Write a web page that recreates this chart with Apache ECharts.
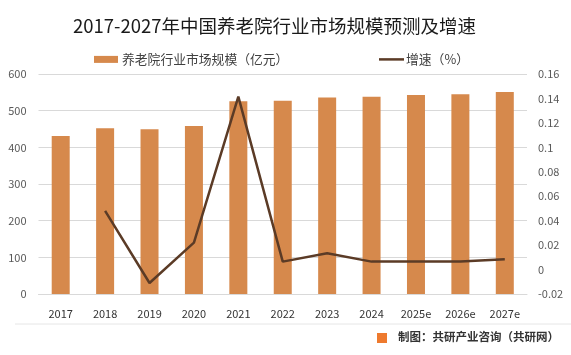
<!DOCTYPE html>
<html><head><meta charset="utf-8">
<script src="https://cdn.jsdelivr.net/npm/echarts@6/dist/echarts.min.js"></script>
<style>html,body{margin:0;padding:0;background:#fff}#c{width:571px;height:355px}</style>
</head><body><div id="c"></div>
<script>
const categories = ['2017','2018','2019','2020','2021','2022','2023','2024','2025e','2026e','2027e'];
const marketSize = [431, 452, 449, 458, 526, 527, 536, 538, 543, 545, 551];
const growthRate = [null, 0.048, -0.011, 0.022, 0.1415, 0.0065, 0.0133, 0.0065, 0.0065, 0.0065, 0.0084];
const leftTicks = {min: 0, max: 600, interval: 100};
const rightTicks = {min: -0.02, max: 0.16, interval: 0.02};

const font = '"Noto Sans CJK SC", "Noto Sans", sans-serif';
const chart = echarts.init(document.getElementById('c'));
chart.setOption({
  backgroundColor: '#fff',
  animation: false,
  title: {
    text: '2017-2027年中国养老院行业市场规模预测及增速',
    left: 68, top: 12,
    textStyle: {fontFamily: font, fontSize: 18.5, fontWeight: 'normal', color: '#1a1a1a'}
  },
  legend: [
    {
      top: 48, left: 89, itemWidth: 24, itemHeight: 7, itemGap: 4,
      textStyle: {fontFamily: font, fontSize: 12.8, color: '#404040', padding: [0, 0, 0, -1]},
      data: [{name: '养老院行业市场规模（亿元）', icon: 'rect'}]
    },
    {
      top: 48, left: 374, itemWidth: 25, itemHeight: 2.5,
      textStyle: {fontFamily: font, fontSize: 12.8, color: '#404040', padding: [0, 0, 0, -3]},
      data: [{name: '增速（%）', icon: 'rect'}]
    }
  ],
  grid: {left: 38.5, right: 44, top: 74, bottom: 61},
  xAxis: {
    type: 'category', data: categories,
    axisLine: {lineStyle: {color: '#d9d9d9'}},
    axisTick: {show: false},
    axisLabel: {fontFamily: font, fontSize: 11, color: '#333', margin: 14}
  },
  yAxis: [
    {
      type: 'value', min: leftTicks.min, max: leftTicks.max, interval: leftTicks.interval,
      axisLine: {show: false}, axisTick: {show: false},
      splitLine: {lineStyle: {color: '#d9d9d9'}},
      axisLabel: {fontFamily: font, fontSize: 11, color: '#595959', margin: 12}
    },
    {
      type: 'value', min: rightTicks.min, max: rightTicks.max, interval: rightTicks.interval,
      axisLine: {show: false}, axisTick: {show: false}, splitLine: {show: false},
      axisLabel: {fontFamily: font, fontSize: 11, color: '#595959', margin: 11,
        formatter: v => String(parseFloat(v.toFixed(2)))}
    }
  ],
  series: [
    {
      name: '养老院行业市场规模（亿元）', type: 'bar', data: marketSize,
      barWidth: 18, itemStyle: {color: '#D6894C'}
    },
    {
      name: '增速（%）', type: 'line', yAxisIndex: 1, data: growthRate,
      symbol: 'none', lineStyle: {color: '#5B3B26', width: 2.5}, itemStyle: {color: '#5B3B26'}
    }
  ],
  graphic: [
    {type: 'line', shape: {x1: 15, y1: 324, x2: 571, y2: 324}, style: {stroke: '#e6e6e6', lineWidth: 1}},
    {type: 'rect', shape: {x: 377, y: 333, width: 10, height: 10}, style: {fill: '#EE7A2E'}},
    {type: 'text', left: 398, top: 331,
      style: {text: '制图：共研产业咨询（共研网）', font: 'bold 11.5px "Noto Sans CJK SC", sans-serif', fill: '#333'}}
  ]
});
</script></body></html>
